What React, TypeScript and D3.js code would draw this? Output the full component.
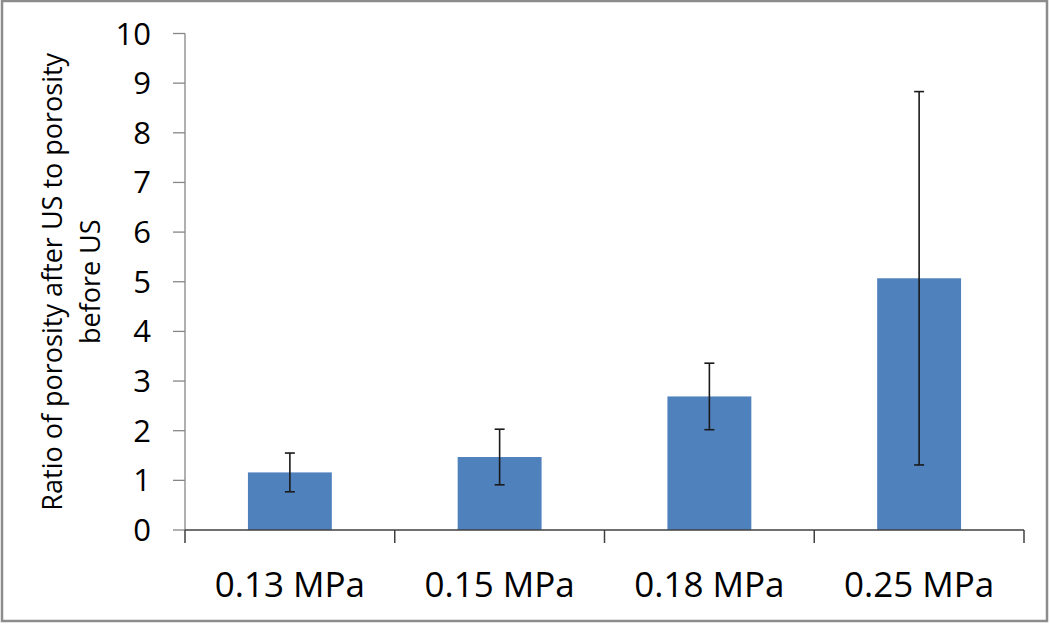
import React from "react";
import * as d3 from "d3";

const categories = ["0.13 MPa", "0.15 MPa", "0.18 MPa", "0.25 MPa"];
const values = [1.16, 1.47, 2.69, 5.07];
const errors = [0.39, 0.56, 0.67, 3.76];
const yTicks = [0, 1, 2, 3, 4, 5, 6, 7, 8, 9, 10];
const yTitle = ["Ratio of porosity after US to porosity", "before US"];

const W = 1050;
const H = 624;
const left = 185;
const right = 1024;
const top = 33.5;
const bottom = 530;
const font = "'Open Sans', 'Liberation Sans', sans-serif";

export default function App() {
  const x = d3
    .scaleBand<string>()
    .domain(categories)
    .range([left, right])
    .paddingInner(0.6)
    .paddingOuter(0.3);
  const y = d3.scaleLinear().domain([0, 10]).range([bottom, top]);
  const step = x.step();
  const bw = x.bandwidth();
  const boundaries = d3.range(categories.length + 1).map((i) => left + i * step);
  const cy = (top + bottom) / 2;

  return (
    <svg
      width={W}
      height={H}
      style={{ position: "absolute", left: 0, top: 0, background: "#fff" }}
    >
      <rect x={0} y={0} width={W} height={H} fill="#fff" />
      <rect x={2} y={1} width={1045} height={620} fill="none" stroke="#8c8c8c" strokeWidth={2.5} />

      {/* y axis */}
      <line x1={left} x2={left} y1={top} y2={bottom} stroke="#868686" strokeWidth={1.3} />
      {yTicks.map((t) => (
        <g key={t}>
          <line x1={left - 12} x2={left} y1={y(t)} y2={y(t)} stroke="#868686" strokeWidth={1.3} />
          <text
            x={151}
            y={y(t) + 11}
            textAnchor="end"
            fontFamily={font}
            fontSize={31}
            fill="#000"
          >
            {t}
          </text>
        </g>
      ))}

      {/* bars */}
      {categories.map((c, i) => (
        <rect
          key={c}
          x={x(c)}
          y={y(values[i])}
          width={bw}
          height={y(0) - y(values[i])}
          fill="#4f81bd"
        />
      ))}

      {/* error bars */}
      {categories.map((c, i) => {
        const cx = (x(c) as number) + bw / 2;
        const hi = y(values[i] + errors[i]);
        const lo = y(values[i] - errors[i]);
        return (
          <g key={"e" + c} stroke="#1a1a1a" strokeWidth={1.6}>
            <line x1={cx} x2={cx} y1={hi} y2={lo} />
            <line x1={cx - 5} x2={cx + 5} y1={hi} y2={hi} />
            <line x1={cx - 5} x2={cx + 5} y1={lo} y2={lo} />
          </g>
        );
      })}

      {/* x axis */}
      <line x1={left} x2={right} y1={bottom} y2={bottom} stroke="#404040" strokeWidth={1.5} />
      {boundaries.map((b, i) => (
        <line key={i} x1={b} x2={b} y1={bottom} y2={bottom + 13} stroke="#404040" strokeWidth={1.5} />
      ))}
      {categories.map((c) => (
        <text
          key={"l" + c}
          x={(x(c) as number) + bw / 2}
          y={597}
          textAnchor="middle"
          fontFamily={font}
          fontSize={35}
          fill="#000"
        >
          {c}
        </text>
      ))}

      {/* y title */}
      <g transform={`translate(0, ${cy}) rotate(-90)`}>
        <text
          x={0}
          y={62}
          textAnchor="middle"
          fontFamily={font}
          fontSize={27}
          fill="#000"
        >
          {yTitle[0]}
        </text>
        <text
          x={0}
          y={100}
          textAnchor="middle"
          fontFamily={font}
          fontSize={27}
          fill="#000"
        >
          {yTitle[1]}
        </text>
      </g>
    </svg>
  );
}
